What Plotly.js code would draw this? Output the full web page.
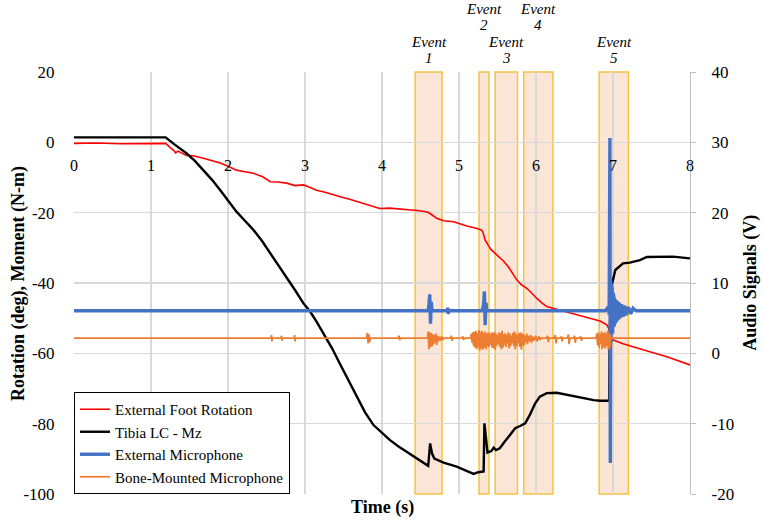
<!DOCTYPE html>
<html><head><meta charset="utf-8">
<script src="https://cdn.plot.ly/plotly-3.0.1.min.js"></script>
<style>html,body{margin:0;padding:0;background:#fff}#chart{width:763px;height:521px}</style>
</head><body><div id="chart"></div>
<script>
// ---- data (time in s) ----
const seriesNames = ['External Foot Rotation', 'Tibia LC - Mz', 'External Microphone', 'Bone-Mounted Microphone'];

// External Foot Rotation (deg) [t, value]
const rotationPts = [[0,-0.3],[0.3,-0.2],[0.6,-0.4],[0.9,-0.3],[1.19,-0.3],[1.25,-1.5],[1.29,-2.2],[1.32,-3.0],[1.35,-2.5],[1.46,-3.7],[1.55,-3.8],[1.68,-4.5],[1.80,-5.3],[1.90,-5.9],[2.0,-6.8],[2.11,-7.9],[2.2,-8.3],[2.33,-8.8],[2.45,-9.8],[2.55,-11.2],[2.65,-11.3],[2.76,-11.6],[2.87,-12.3],[2.98,-12.1],[3.06,-12.8],[3.15,-13.6],[3.26,-14.2],[3.37,-15.0],[3.48,-15.6],[3.58,-16.2],[3.70,-17.0],[3.80,-17.8],[3.90,-18.5],[3.97,-18.8],[4.10,-18.7],[4.23,-18.9],[4.35,-19.2],[4.45,-19.4],[4.53,-19.6],[4.60,-19.9],[4.66,-20.8],[4.71,-21.6],[4.80,-22.3],[4.93,-22.6],[5.02,-23.2],[5.10,-23.8],[5.20,-24.3],[5.29,-24.9],[5.31,-25.5],[5.34,-27.8],[5.38,-29.3],[5.42,-30.6],[5.48,-31.8],[5.53,-32.7],[5.58,-33.8],[5.64,-35.4],[5.70,-37.4],[5.75,-39.1],[5.81,-40.5],[5.88,-41.5],[5.95,-43.0],[6.01,-44.4],[6.08,-45.7],[6.14,-46.7],[6.22,-47.2],[6.35,-47.9],[6.48,-48.6],[6.60,-49.3],[6.70,-50.0],[6.83,-50.8],[6.92,-51.9],[6.96,-53.5],[7.0,-56.2],[7.13,-57.3],[7.26,-58.1],[7.35,-58.6],[7.50,-59.7],[7.70,-61.0],[7.85,-62.2],[8.0,-63.3]];

// Tibia LC - Mz (N-m) [t, value]
const momentPts = [[0,1.4],[0.5,1.4],[1.0,1.4],[1.19,1.4],[1.30,-0.5],[1.46,-3.1],[1.57,-5.3],[1.68,-7.9],[1.79,-10.6],[1.90,-13.6],[2.0,-16.5],[2.11,-19.7],[2.22,-22.3],[2.33,-24.9],[2.44,-28.0],[2.55,-31.6],[2.66,-35.0],[2.76,-38.2],[2.87,-42.0],[2.98,-45.8],[3.06,-47.9],[3.15,-51.0],[3.24,-54.3],[3.35,-58.5],[3.45,-62.8],[3.56,-67.5],[3.67,-72.3],[3.78,-76.8],[3.89,-80.4],[4.0,-82.6],[4.10,-84.6],[4.21,-86.4],[4.32,-88.0],[4.45,-89.9],[4.60,-92.0],[4.625,-85.6],[4.65,-88.5],[4.68,-89.9],[4.80,-91.1],[4.97,-92.2],[5.08,-93.2],[5.19,-94.3],[5.25,-93.8],[5.32,-93.6],[5.33,-79.9],[5.35,-85.0],[5.37,-88.2],[5.42,-87.8],[5.45,-86.8],[5.48,-87.5],[5.53,-87.0],[5.58,-85.5],[5.62,-84.3],[5.68,-82.5],[5.73,-81.3],[5.80,-80.6],[5.86,-79.9],[5.92,-77.5],[5.99,-74.2],[6.05,-72.3],[6.14,-71.3],[6.27,-71.2],[6.45,-72.0],[6.61,-72.8],[6.75,-73.3],[6.83,-73.5],[6.95,-73.5],[6.955,-55],[6.98,-41.0],[7.03,-36.3],[7.08,-35.2],[7.13,-34.4],[7.22,-34.2],[7.35,-33.5],[7.44,-32.6],[7.57,-32.5],[7.78,-32.5],[8.0,-33.0]];

// External Microphone (V) [t, value]
const extMicPts = [[0,6.05],[1.0,6.05],[2.0,6.05],[3.0,6.05],[4.0,6.05],[4.60,6.05],[4.61,6.9],[4.62,8.4],[4.63,4.2],[4.64,7.3],[4.65,6.05],[4.70,6.05],[4.85,6.05],[4.855,6.5],[4.86,5.6],[4.865,6.05],[5.00,6.05],[5.30,6.05],[5.32,7.0],[5.33,8.8],[5.34,4.0],[5.35,7.2],[5.36,6.05],[6.00,6.05],[6.90,6.05],[6.94,6.6],[6.95,5.5],[6.96,30.6],[6.965,-15.6],[6.97,10.5],[6.975,1.5],[6.98,9.8],[6.985,2.2],[6.99,9.2],[6.995,2.8],[7.0,8.6],[7.005,3.4],[7.01,8.2],[7.015,3.8],[7.02,7.9],[7.03,4.2],[7.04,7.6],[7.05,4.5],[7.06,7.4],[7.07,4.8],[7.08,7.2],[7.095,5.0],[7.11,7.0],[7.13,5.2],[7.15,6.8],[7.17,5.4],[7.20,6.6],[7.23,5.6],[7.26,6.4],[7.30,6.05],[8.0,6.05]];

// Bone-Mounted Microphone (V) [t, value]
const boneMicPts = [[0,2.15],[2.56,2.15],[2.565,2.6],[2.57,1.7],[2.575,2.15],[2.69,2.15],[2.695,2.5],[2.70,1.8],[2.705,2.15],[2.86,2.15],[2.865,2.6],[2.87,1.7],[2.875,2.15],[3.80,2.15],[3.81,2.9],[3.82,1.4],[3.83,2.7],[3.84,1.6],[3.85,2.15],[4.21,2.15],[4.22,2.5],[4.23,1.9],[4.24,2.15],[4.59,2.15],[4.60,3.1],[4.61,0.6],[4.62,3.0],[4.63,0.9],[4.64,2.9],[4.65,1.0],[4.66,2.7],[4.67,1.3],[4.68,2.6],[4.69,1.5],[4.70,2.8],[4.71,1.2],[4.72,2.5],[4.73,1.7],[4.75,2.4],[4.76,1.8],[4.78,2.4],[4.79,1.9],[4.80,2.15],[4.89,2.15],[4.90,2.5],[4.91,1.8],[4.92,2.15],[5.04,2.15],[5.05,2.4],[5.06,1.9],[5.07,2.15],[5.15,2.15],[5.16,2.8],[5.17,1.5],[5.18,3.0],[5.19,1.0],[5.20,3.1],[5.21,0.8],[5.22,3.2],[5.23,0.6],[5.24,2.9],[5.25,0.9],[5.26,3.3],[5.27,0.4],[5.28,3.0],[5.29,0.7],[5.30,3.2],[5.31,0.5],[5.32,2.9],[5.33,0.8],[5.34,3.1],[5.35,0.6],[5.36,2.8],[5.37,1.0],[5.38,3.0],[5.39,0.9],[5.40,2.7],[5.41,1.2],[5.42,3.0],[5.43,0.8],[5.44,2.9],[5.45,0.7],[5.46,3.1],[5.47,0.5],[5.48,2.8],[5.49,1.1],[5.50,2.6],[5.51,1.3],[5.52,3.0],[5.53,0.9],[5.54,2.9],[5.55,0.6],[5.56,3.2],[5.57,0.8],[5.58,2.7],[5.59,1.2],[5.60,2.9],[5.61,0.9],[5.62,2.6],[5.63,1.4],[5.64,3.0],[5.65,0.7],[5.66,2.8],[5.67,1.0],[5.68,2.5],[5.69,1.5],[5.70,2.9],[5.71,1.1],[5.72,3.1],[5.73,0.6],[5.74,2.8],[5.75,1.0],[5.76,2.6],[5.77,1.4],[5.78,2.9],[5.79,0.9],[5.80,3.0],[5.81,0.5],[5.82,2.8],[5.83,1.0],[5.84,2.7],[5.85,1.2],[5.86,2.5],[5.87,1.6],[5.88,2.8],[5.89,1.3],[5.90,2.5],[5.91,1.7],[5.93,2.6],[5.94,1.5],[5.96,2.4],[5.97,1.8],[6.00,2.5],[6.01,1.7],[6.04,2.4],[6.05,1.9],[6.06,2.15],[6.14,2.15],[6.15,2.5],[6.16,1.6],[6.17,2.15],[6.24,2.15],[6.25,2.6],[6.26,1.4],[6.27,2.15],[6.32,2.15],[6.33,2.4],[6.34,1.7],[6.35,2.15],[6.41,2.15],[6.42,2.7],[6.43,1.3],[6.44,2.15],[6.49,2.15],[6.50,2.5],[6.51,1.5],[6.52,2.15],[6.57,2.15],[6.58,2.4],[6.59,1.8],[6.60,2.15],[6.78,2.15],[6.79,2.8],[6.80,1.2],[6.81,3.0],[6.82,0.8],[6.83,2.7],[6.84,1.3],[6.85,3.1],[6.86,0.6],[6.87,2.9],[6.88,0.9],[6.89,3.0],[6.90,0.7],[6.91,2.8],[6.92,1.0],[6.93,3.2],[6.94,0.5],[6.95,2.9],[6.96,0.8],[6.97,2.6],[6.98,2.15],[8.0,2.15]];

// Event windows (s)
const eventStart = [4.43, 5.26, 5.47, 5.84, 6.82];
const eventEnd   = [4.78, 5.39, 5.76, 6.22, 7.20];
const eventNames = ['1', '2', '3', '4', '5'];

// Axis ticks
const xTicks = [0, 1, 2, 3, 4, 5, 6, 7, 8];
const leftTicks = [-100, -80, -60, -40, -20, 0, 20];
const rightTicks = [-20, -10, 0, 10, 20, 30, 40];

// ---- chart ----
const serif = 'Liberation Serif, Times New Roman, serif';
const xs = p => p.map(d => d[0]);
const ys = p => p.map(d => d[1]);

const traces = [
  {x: xs(rotationPts), y: ys(rotationPts), name: seriesNames[0], type: 'scatter', mode: 'lines', line: {color: '#FF0000', width: 1.6}, xaxis: 'x', yaxis: 'y'},
  {x: xs(momentPts), y: ys(momentPts), name: seriesNames[1], type: 'scatter', mode: 'lines', line: {color: '#000000', width: 2.4}, xaxis: 'x', yaxis: 'y'},
  {x: xs(extMicPts), y: ys(extMicPts), name: seriesNames[2], type: 'scatter', mode: 'lines', line: {color: '#4472C4', width: 3.4}, xaxis: 'x', yaxis: 'y2'},
  {x: xs(boneMicPts), y: ys(boneMicPts), name: seriesNames[3], type: 'scatter', mode: 'lines', line: {color: '#ED7D31', width: 1.8}, xaxis: 'x', yaxis: 'y2'}
];

const shapes = eventStart.map((s, i) => ({
  type: 'rect', xref: 'x', yref: 'paper', x0: s, x1: eventEnd[i], y0: 0, y1: 1,
  fillcolor: '#FBE5D6', line: {color: '#F5C242', width: 1.5}, layer: 'below'
}));

const annotations = [];
eventStart.forEach((s, i) => {
  const cx = (s + eventEnd[i]) / 2;
  const high = i % 2 === 1;
  annotations.push({xref: 'x', yref: 'paper', x: cx, y: high ? 1.1493 : 1.0711, text: '<i>Event</i>', showarrow: false,
    xanchor: 'center', yanchor: 'middle', borderpad: 0, font: {family: serif, size: 15, color: '#000'}});
  annotations.push({xref: 'x', yref: 'paper', x: cx, y: high ? 1.1114 : 1.0332, text: '<i>' + eventNames[i] + '</i>', showarrow: false,
    xanchor: 'center', yanchor: 'middle', borderpad: 0, font: {family: serif, size: 15, color: '#000'}});
});
annotations.push({xref: 'paper', yref: 'paper', x: 0.5, y: -0.033, text: '<b>Time (s)</b>', showarrow: false,
  xanchor: 'center', yanchor: 'middle', font: {family: serif, size: 18, color: '#000'}});
annotations.push({xref: 'paper', yref: 'paper', x: -0.091, y: 0.5, text: '<b>Rotation (deg), Moment (N-m)</b>', textangle: -90, showarrow: false,
  xanchor: 'center', yanchor: 'middle', font: {family: serif, size: 18, color: '#000'}});
annotations.push({xref: 'paper', yref: 'paper', x: 1.097, y: 0.5, text: '<b>Audio Signals (V)</b>', textangle: -90, showarrow: false,
  xanchor: 'center', yanchor: 'middle', font: {family: serif, size: 18, color: '#000'}});

const grid = '#D9D9D9';
const layout = {
  width: 763, height: 521,
  margin: {l: 74, r: 73, t: 72, b: 27, pad: 0},
  paper_bgcolor: '#ffffff', plot_bgcolor: '#ffffff',
  font: {family: serif, color: '#000'},
  showlegend: true,
  legend: {x: 0, y: 0, xanchor: 'left', yanchor: 'bottom', bgcolor: '#ffffff', bordercolor: '#000000', borderwidth: 1,
    font: {family: serif, size: 15, color: '#000'}, tracegroupgap: 0},
  xaxis: {range: [0, 8], tickmode: 'array', tickvals: xTicks, ticktext: xTicks.map(String), anchor: 'free', position: 100 / 120,
    showgrid: true, gridcolor: grid, gridwidth: 1.2, zeroline: false, showline: false,
    ticks: 'outside', ticklen: 8, tickcolor: 'rgba(0,0,0,0)', tickfont: {family: serif, size: 16, color: '#000'}, fixedrange: true},
  yaxis: {range: [-100, 20], tickmode: 'array', tickvals: leftTicks, ticktext: leftTicks.map(String),
    showgrid: true, gridcolor: grid, gridwidth: 1.2, zeroline: false, showline: false,
    ticks: 'outside', ticklen: 15, tickcolor: 'rgba(0,0,0,0)', tickfont: {family: serif, size: 17, color: '#000'}, fixedrange: true},
  yaxis2: {range: [-20, 40], overlaying: 'y', side: 'right', tickmode: 'array', tickvals: rightTicks, ticktext: rightTicks.map(String),
    showgrid: false, zeroline: false, showline: true, linecolor: '#BFBFBF', linewidth: 1.2,
    ticks: 'outside', ticklen: 5, tickcolor: '#BFBFBF', ticklabelstandoff: 12, tickfont: {family: serif, size: 17, color: '#000'}, fixedrange: true},
  shapes: shapes,
  annotations: annotations
};

Plotly.newPlot('chart', traces, layout, {displayModeBar: false, staticPlot: true});
</script></body></html>
